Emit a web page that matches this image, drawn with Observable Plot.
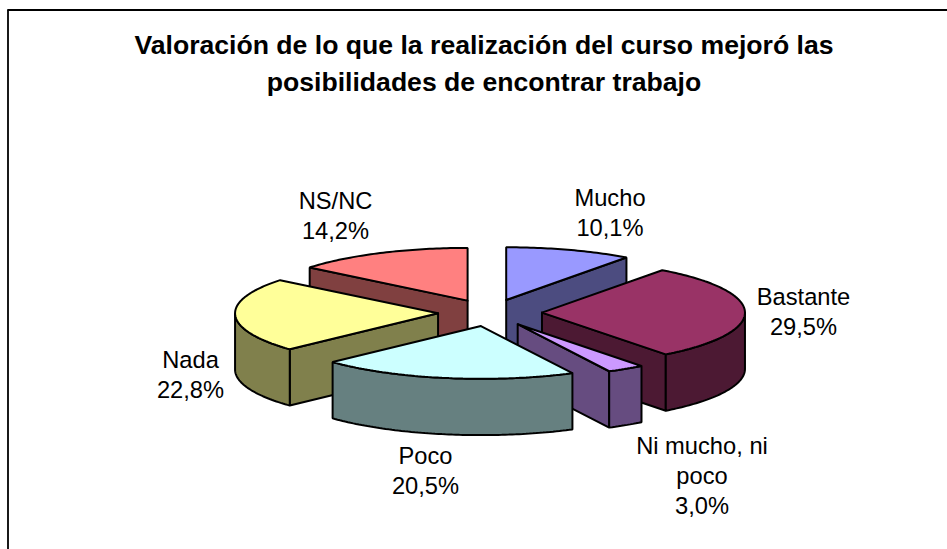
<!DOCTYPE html>
<html><head><meta charset="utf-8">
<style>html,body{margin:0;padding:0;background:#fff}svg{display:block}</style>
<script src="https://cdn.jsdelivr.net/npm/d3@7"></script>
<script src="https://cdn.jsdelivr.net/npm/@observablehq/plot@0.6"></script>
</head><body><script>
const categories = ["Mucho","Bastante","Ni mucho, ni poco","Poco","Nada","NS/NC"];
const shares = [10.1,29.5,3.0,20.5,22.8,14.2];
const shareLabels = ["10,1%","29,5%","3,0%","20,5%","22,8%","14,2%"];
const topColors = ["#9999FF","#993366","#CC99FF","#CCFFFF","#FFFF99","#FF8080"];
const sideColors = ["#4C4C80","#4C1933","#664C80","#668080","#80804C","#804040"];
const labelLines = [["Mucho","10,1%"],["Bastante","29,5%"],["Ni mucho, ni","poco","3,0%"],["Poco","20,5%"],["Nada","22,8%"],["NS/NC","14,2%"]];
const labelAnchors = [[609.5,197.5],[803,296.5],[701.5,445.5],[425,456],[190,359.5],[335,200.5]];
const titleLines = ["Valoración de lo que la realización del curso mejoró las","posibilidades de encontrar trabajo"];
const titleAnchors = [[483.5,45],[483.5,82]];

const cx=489.5, cy=312.3, rx=203, ry=52.7, depth=56.3, explode=0.256;
const total=d3.sum(shares);
let acc=0;
const slices=shares.map((v,i)=>{const a0=acc/total*2*Math.PI;acc+=v;const a1=acc/total*2*Math.PI;const m=(a0+a1)/2;
  return {i,a0,a1,ox:cx+explode*rx*Math.sin(m),oy:cy-explode*ry*Math.cos(m)};});
const rim=(s,a)=>[s.ox+rx*Math.sin(a),s.oy-ry*Math.cos(a)];
const range=(a,b)=>{const n=Math.max(1,Math.ceil((b-a)/(Math.PI/180)));return d3.range(n+1).map(k=>a+(b-a)*k/n);};
const polys=[];
let nextId=0;
function add(pts,fill){const id=nextId++;[...pts,pts[0]].forEach(p=>polys.push({id,x:p[0],y:p[1],fill}));}
for(const k of [5,0,4,1,2,3]){
  const s=slices[k],o=[s.ox,s.oy],down=p=>[p[0],p[1]+depth];
  // only the radial walls that face the viewer
  if(Math.sin(s.a0)<-1e-6){const r=rim(s,s.a0);add([o,r,down(r),down(o)],sideColors[k]);}
  if(Math.sin(s.a1)>1e-6){const r=rim(s,s.a1);add([o,r,down(r),down(o)],sideColors[k]);}
  const f0=Math.max(s.a0,Math.PI/2),f1=Math.min(s.a1,3*Math.PI/2);
  if(f1>f0){const arc=range(f0,f1).map(a=>rim(s,a));add([...arc,...arc.slice().reverse().map(down)],sideColors[k]);}
  add([o,...range(s.a0,s.a1).map(a=>rim(s,a))],topColors[k]);
}
const labels=labelLines.flatMap((ls,k)=>ls.map((t,j)=>({t,x:labelAnchors[k][0],y:labelAnchors[k][1]+j*30})));
const titles=titleLines.map((t,j)=>({t,x:titleAnchors[j][0],y:titleAnchors[j][1]}));
const font="Liberation Sans, Arial, sans-serif";
const chart=Plot.plot({width:947,height:549,margin:0,
  x:{domain:[0,947],range:[0,947],axis:null},y:{domain:[0,549],range:[0,549],axis:null},
  color:{type:"identity"},
  marks:[
    Plot.ruleX([7.5],{y1:9.5,y2:549,stroke:"#000",strokeWidth:1.8}),
    Plot.ruleY([9.5],{x1:7.5,x2:947,stroke:"#000",strokeWidth:1.8}),
    Plot.line(polys,{x:"x",y:"y",z:"id",fill:"fill",stroke:"#000",strokeWidth:2,strokeLinejoin:"miter",curve:"linear"}),
    Plot.text(titles,{x:"x",y:"y",text:"t",fontFamily:font,fontWeight:"bold",fontSize:26.6,fill:"#000"}),
    Plot.text(labels,{x:"x",y:"y",text:"t",fontFamily:font,fontSize:23.7,fill:"#000"})
  ]});
document.body.appendChild(chart);
</script></body></html>
